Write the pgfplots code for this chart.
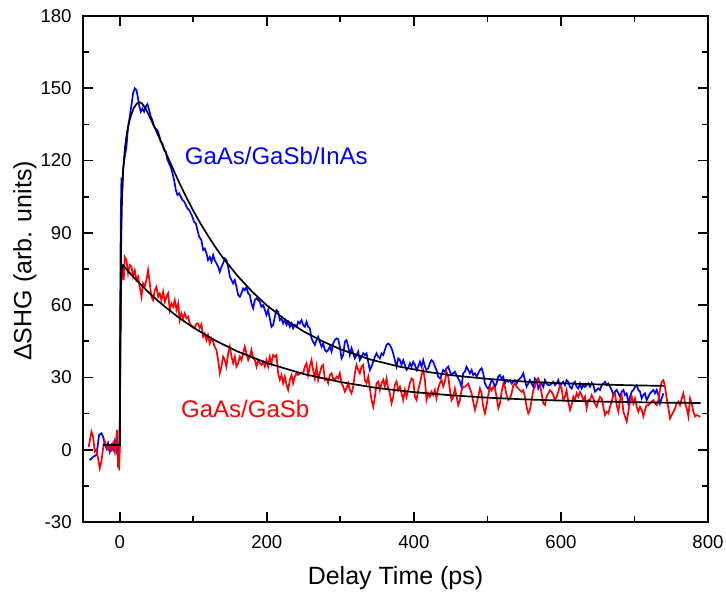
\documentclass[border=0pt]{standalone}
\usepackage{fontspec}
\setmainfont{Liberation Sans}
\usepackage{pgfplots}
\pgfplotsset{compat=1.18}
\usetikzlibrary{calc}

\definecolor{dblue}{RGB}{0,0,255}
\definecolor{dred}{RGB}{255,0,0}

\begin{document}
\begin{tikzpicture}
\begin{axis}[
    name=ax,
    scale only axis,
    width=312.5pt,
    height=253pt,
    xmin=-50, xmax=800,
    ymin=-30, ymax=180,
    xtick={0,200,...,800},
    ytick={-30,0,...,180},
    minor x tick num=1,
    minor y tick num=1,
    tick align=inside,
    major tick length=5pt,
    minor tick length=3pt,
    every tick/.style={line width=0.9pt, black},
    axis line style={line width=1.1pt},
    /pgf/number format/assume math mode=true,
    tick label style={font=\fontsize{9.3}{11}\selectfont},
    xticklabel style={inner sep=0pt, anchor=north, yshift=-6.5pt},
    yticklabel style={inner sep=0pt, anchor=east, xshift=-5.5pt},
    xlabel={Delay Time (ps)},
    ylabel={ΔSHG (arb. units)},
    label style={font=\fontsize{12.5}{14}\selectfont},
    xlabel style={at={(axis description cs:0.5,-0.1107)}, anchor=center},
    ylabel style={at={(axis description cs:-0.0928,0.516)}, anchor=center},
    clip=false,
]
% GaAs/GaSb/InAs data
\addplot[dblue, line width=0.85pt] coordinates {
(-40.8,-4.3) (-36,-2.9) (-31.7,-2.2) (-28.1,6.1) (-25,6.8) (-22.7,5.4) (-20.4,2.7) (-18.1,0.6)
(-15.9,2.7) (-13.6,-0.8) (-11.3,1.8) (-9.1,0) (-6.8,3.5) (-4.5,-0.8) (-2.3,1.4) (-0.9,-1.3)
(0,2) (0.6,55) (1.3,95) (2.3,113) (3.2,107) (4.5,116) (6.8,121.6) (9.1,125.7) (11.3,134)
(13.6,138.2) (15.9,143) (18.1,147.9) (20.4,150) (22.7,149.3) (24,147.3) (26.3,143) (28.6,140.3)
(30.8,141.6) (33.1,140.3) (35.4,142.3) (37.6,143.4) (39.9,141) (42.2,138.2) (44.4,136.8)
(46.7,134) (49,133.3) (51.2,132.6) (53.5,130.6) (55.8,127.9) (58,127.2) (60.3,124.4) (62.6,123.7)
(64.9,120.3) (67.1,118.8) (69.4,117.2) (71.7,114.8) (73.9,111.9) (76.2,107.8) (78.5,105.7)
(80.7,106.4) (83,105) (85.3,103.6) (87.5,103) (89.8,101.6) (92,100.2) (94.3,99.5) (96.6,98.1)
(98.8,96.7) (101,94.6) (103.4,94) (105.6,91.2) (108,88.4) (111,87) (113.4,82.9) (115.6,83.5)
(117.9,81.5) (120,78.7) (122.4,80) (124.7,78) (127,80.8) (129,78.7) (131.5,77.4) (133.8,75.9)
(136,73.8) (138.3,75.9) (140.6,77.4) (142.9,79.4) (145,78.7) (147.4,75.9) (149.7,71.8) (152,70.4)
(154.2,69) (156.5,70.4) (158.7,67.6) (161,64.2) (163.3,63.5) (165.5,64.9) (167.8,66.9) (170,66.2)
(172.3,67.6) (174.6,64.9) (176.9,64.2) (179.1,60.7) (181.4,58.7) (183.7,62.1) (186,62.8)
(188.2,62.1) (190.5,61.4) (192.7,59.3) (195,60) (197.3,58) (199.5,55.9) (201.8,58) (204,54.5)
(206.3,51) (208.6,51.8) (210.9,55.2) (213.1,58) (215.4,57.3) (217.7,53.8) (220,54.5) (222.2,52.4)
(224.5,53.8) (226.8,51.8) (229,53.1) (231.3,51) (233.6,52.4) (235.8,50.4) (238,51.8) (240.4,51)
(242.6,53.1) (244.9,52.4) (247.2,53.8) (249.4,51.8) (251.7,51) (254,53.1) (256.2,51) (258.5,50.4)
(260.8,46.2) (263,44.8) (265.3,43.5) (267.6,45.5) (269.8,46.9) (272,44.8) (274.4,42.8)
(276.6,44.1) (278.9,41.4) (281.2,40.7) (283.4,41.4) (285.7,42.8) (288,40.7) (290.2,44.1)
(292.5,45.5) (294.8,46.2) (297,45.9) (299.3,42.8) (301.6,37.9) (303.9,39.3) (306.1,44.8)
(308.4,45.5) (310.7,42.8) (312.9,39.3) (315.2,42.1) (317.5,40) (319.7,37.9) (322,39.3)
(324.3,40.7) (326.5,37.2) (328.8,38.6) (331,40) (333.3,39.3) (335.6,40) (337.9,36.5) (340.1,33.1)
(342.4,34.5) (344.7,36.5) (347,38.6) (349.2,40) (351.5,38.6) (353.7,37.9) (356,40) (358.3,39.3)
(360.5,41.4) (362.8,43.5) (365,44.1) (367.3,43.5) (369.6,42.1) (371.9,40) (374.1,37.2)
(376.4,34.5) (378.7,37.9) (381,37.2) (383.2,35.2) (385.5,37.2) (387.8,35.2) (390,33.1)
(392.3,33.8) (394.6,35.9) (396.8,34.5) (399.1,36.5) (401.4,35.2) (403.6,33.1) (405.9,34.5)
(408.2,36.5) (410.4,34.5) (412.7,37.2) (415,34.5) (417.2,33.1) (419.5,33.8) (421.8,35.9)
(424,37.2) (426.3,36.5) (428.6,34.5) (430.8,33.1) (433,30.3) (435.4,29.6) (437.6,31) (439.9,33.1)
(442.2,32.4) (444.4,33.8) (446.7,34.5) (449,32.4) (451.2,31) (453.5,31.7) (455.8,32.4) (458,31)
(460.3,29.6) (462.6,28.2) (464.8,26.1) (467,31.7) (469.4,32.4) (471.6,34.4) (473.9,33.1)
(476.2,31.7) (478.5,33.1) (480.7,31) (483,31.7) (485.3,30.3) (487.5,31.7) (489.8,33.1) (492,33.8)
(494.3,31.7) (496.6,27.6) (498.8,26.1) (501,25.4) (503.4,26.8) (505.6,28.9) (507.9,28.2)
(510.2,26.1) (512.4,27.5) (514.7,30.3) (517,31) (519.3,29.6) (521.5,30.3) (523.8,27.5) (526,28.9)
(528.3,28.2) (530.6,28.9) (532.9,27.5) (535.1,28.2) (537.4,28.9) (539.7,27.5) (541.9,28.9)
(544.2,29.6) (546.5,30.3) (548.8,31.7) (551,28.9) (553.3,26.1) (555.6,27.5) (557.8,28.9)
(560,27.5) (562.4,26.1) (564.6,29.6) (566.9,28.9) (569.2,25.4) (571.4,26.8) (573.7,27.5)
(576,26.1) (578.2,28.9) (580.5,27.5) (582.8,26.8) (585,26.8) (587.3,27.5) (589.6,28.2)
(591.8,26.8) (594,27.5) (596.4,28.9) (598.6,26.1) (600.9,27.5) (603,28.2) (605.4,26.8)
(607.7,28.9) (610,28.2) (612.2,26.1) (614.5,25.4) (616.8,27.5) (619,28.2) (621.3,26.1)
(623.6,25.4) (625.9,27.5) (628.1,25.4) (630.4,26.8) (632.7,26.1) (637.2,27.5) (639.5,26.1)
(641.8,27.8) (644,26.8) (646.3,24.1) (648.6,24.8) (650.8,25.5) (653.1,24.8) (655.4,26.8)
(657.6,27.5) (659.9,28.2) (662.2,26.8) (664.5,27.5) (666.7,26.1) (669,24.8) (671.3,22.7)
(673.5,24.1) (675.8,24.8) (678.1,23.4) (680.3,22) (682.6,24.1) (684.9,24.8) (687.1,22.7)
(689.4,23.4) (691.7,19.2) (693.9,22) (696.2,24.1) (698.5,24.8) (700.7,26.1) (703,26.8)
(705.3,24.8) (707.5,24.1) (709.8,21.3) (712.1,22.7) (714.3,23.4) (716.6,20.6) (718.9,22)
(721.1,23.4) (723.4,24.1) (725.7,24.8) (727.9,23.4) (730.2,24.8) (732.5,22.7) (734.7,19.2)
(737,21.3) (739.3,23.4)
};
% GaAs/GaSb data
\addplot[dred, line width=0.85pt] coordinates {
(-42.2,1.2) (-38.5,7.5) (-36.3,5.4) (-34,-0.8) (-31.7,0) (-29.5,-3.6) (-27.2,-7.7) (-25,-5)
(-22.7,0.6) (-20.4,3.5) (-18.1,1.4) (-15.9,0) (-13.6,1.4) (-11.3,0) (-9.1,2.7) (-6.8,-0.8)
(-4.5,5.4) (-3.6,8.2) (-2.3,-7) (-0.9,-7.7) (0,0) (0.8,40) (1.8,68) (3.6,75.9) (5.4,70.4)
(6.8,80) (9.1,78.7) (11.3,73.2) (13.6,76.6) (15.9,75.9) (18.1,71.8) (20.4,74.5) (22.7,70.4)
(24.9,71.8) (27.2,67.6) (29.5,63.5) (31.7,69) (34,67.6) (36.3,70.4) (38.5,74.6) (40.8,69)
(43,63.5) (45.3,62.1) (47.6,66.2) (49.9,67.6) (52.1,63.5) (54.4,64.9) (56.7,62.1) (59,65.6)
(61.2,61.4) (63.5,63.5) (65.8,64.9) (68,58) (70.3,60.7) (72.6,59.3) (74.8,62.1) (77.1,58)
(79.4,60.7) (81.6,53.8) (83.9,56.6) (86.2,54.5) (88.4,56.6) (90.7,54.5) (93,55.2) (95.2,52.4)
(97.5,51.5) (99.8,51.1) (102,50.5) (104.3,52.4) (106.6,52.4) (108.8,50.5) (111,52) (113.4,46.9)
(115.6,48.2) (117.9,45.5) (120,47.6) (122.4,44.1) (124.7,46.2) (127,44.8) (129,42.8) (131.5,41.4)
(133.8,37.2) (136,31.7) (138.3,34.5) (140.6,38.6) (142.9,37.2) (145,34.5) (147.4,40) (149.7,42.8)
(152,38.6) (154.2,35.9) (156.5,38.6) (158.7,34.5) (161,35.9) (163.3,38.6) (165.5,37.2) (167.8,40)
(170,42.8) (172.3,40) (174.6,37.2) (176.9,38.6) (179.1,41.4) (181.4,37.9) (183.7,37.2) (186,34.5)
(188.2,37.2) (190.5,35.9) (192.7,35.2) (195,36.5) (197.3,34.5) (199.5,37.2) (201.8,34.5)
(204,38.6) (206.3,35.9) (208.6,39.3) (210.9,38.6) (213.1,39.3) (215.4,31.7) (217.7,29) (220,31)
(222.2,27.6) (224.5,30.3) (226.8,26.9) (229,24.8) (231.3,29) (233.6,31) (235.8,27.6) (238,30.3)
(240.4,31.7) (242.6,31) (244.9,31.7) (247.2,32) (249.4,31.7) (251.7,34.5) (254,35.9) (256.2,31)
(258.5,34.5) (260.8,37.2) (263,33.1) (265.3,29.6) (267.6,34.5) (269.8,29) (272,31.7) (274.4,34.5)
(276.6,35.2) (278.9,29) (281.2,29.6) (283.4,27.6) (285.7,31) (288,31.7) (290.2,29.6) (292.5,29)
(294.8,30.3) (297,29.6) (299.3,31.7) (301.6,27.6) (303.9,26.2) (306.1,24.1) (308.4,25.5)
(310.7,27.6) (312.9,24.8) (315.2,23.4) (317.5,26.2) (319.7,31.7) (322,35.2) (324.3,33.1)
(326.5,31.7) (328.8,34.5) (331,35.2) (333.3,29) (335.6,27.6) (337.9,30.3) (340.1,25.5)
(342.4,20.6) (344.7,17.8) (347,22) (349.2,27.6) (351.5,28.3) (353.7,24.8) (356,27.6) (358.3,29)
(360.5,26.2) (362.8,29.6) (365,25.5) (367.3,23.4) (369.6,19.3) (371.9,22) (374.1,26.9)
(376.4,28.3) (378.7,24.8) (381,26.2) (383.2,23.4) (385.5,20.6) (387.8,24.8) (390,22) (392.3,24.8)
(394.6,27.6) (396.8,29.6) (399.1,29) (401.4,22) (403.6,20.6) (405.9,24.8) (408.2,27.6) (410.4,31)
(412.7,33.1) (415,29) (417.2,20.6) (419.5,23.4) (421.8,22) (424,24.1) (426.3,22.7) (428.6,24.8)
(430.8,21.3) (433,25.5) (435.4,27.6) (437.6,29) (439.9,26.2) (442.2,28.3) (444.4,32.4)
(446.7,30.3) (449,24.8) (451.2,20.6) (453.5,22) (455.8,25.4) (458.1,22) (460.3,18.5) (462.6,20.6)
(464.9,24.7) (467.1,26.1) (469.4,26.1) (471.7,26.8) (474,27.5) (476.2,25.4) (478.5,23.4)
(480.7,19.9) (483,16.5) (485.3,19.2) (487.5,22) (489.8,25.4) (492.1,23.4) (494.3,17.8)
(496.6,15.1) (498.9,18.5) (501.2,22.7) (503.4,26.1) (505.7,24.7) (508,26.1) (510.2,25.4)
(512.5,22) (514.8,17.2) (517,19.2) (519.3,24) (521.6,27.5) (523.8,26.1) (526.1,22.7) (528.4,20.6)
(530.6,21.3) (532.9,23.4) (535.2,26.8) (537.4,27.5) (539.7,26.1) (542,25.4) (544.2,24.7)
(546.5,24) (548.8,24.7) (551,22) (553.3,17.8) (555.6,15.1) (557.8,16.5) (560.1,20.6) (562.4,24.7)
(564.6,26.1) (566.9,28.9) (569.2,29.6) (571.4,27.5) (573.7,23.4) (576,19.2) (578.2,18.5)
(580.5,22) (582.8,23.4) (585,24.7) (587.3,24) (589.6,22.7) (591.9,20.6) (594.1,22) (596.4,24)
(598.7,26.8) (600.9,25.4) (603.2,20.6) (605.5,22) (607.7,24.7) (610,19.9) (612.3,16.5)
(614.5,18.5) (616.8,22) (619.1,20.6) (621.3,23.4) (623.6,22) (625.9,24) (628.1,22.7) (630.4,20.6)
(632.7,22) (634.9,17.2) (637.2,20.6) (639.5,20.6) (641.8,22.7) (644,21.3) (646.3,19.2)
(648.6,17.8) (650.8,20) (653.1,22) (655.4,21.3) (657.6,17.8) (659.9,14.4) (662.2,15.8)
(664.5,15.1) (666.7,17.8) (669,20) (671.3,22.7) (673.5,23.4) (675.8,18.5) (678.1,15.8)
(680.3,20.6) (682.6,22.7) (684.9,15.8) (687.1,13.8) (689.4,11.7) (691.7,15.8) (693.9,20)
(696.2,22) (698.5,19.2) (700.7,21.3) (703,17.8) (705.3,15.8) (707.5,17.8) (709.8,16.5)
(712.1,13.8) (714.3,16.5) (716.6,18.5) (718.9,18.5) (721.1,19.2) (723.4,20) (725.7,20.6)
(727.9,19.2) (730.2,18.5) (732.5,20.6) (734.7,24.8) (737,28.2) (739.3,28.9) (741.5,26.1)
(743.8,21.3) (746.1,17.2) (748.3,13) (750.6,14.4) (752.9,15.8) (755.1,17.2) (757.4,19.2)
(759.7,20) (761.9,18.5) (764.2,21.3) (766.5,23.4) (768.8,19.2) (771,17.2) (773.3,13.8)
(775.6,21.3) (777.8,19.2) (780.1,15.8) (782.4,13.8) (784.6,14.4) (786.9,14.1) (789.2,13.6)
};
% fits
\addplot[black, line width=0.85pt] coordinates {
(-23,2) (0,2) (0.5,30) (1,55) (1.5,75) (2,88) (3,103) (4,112) (5,118) (7,125) (9,130) (12,135)
(15,138.5) (19,141.8) (23,143.6) (27,144.2) (30,143.8) (35,141.6) (40,138.6) (45,135.4) (50,132)
(55,128.6) (60,125) (70,118.2) (80,111.4) (90,105.1) (100,99.2) (110,93.8) (120,88.8) (130,84.1)
(140,79.8) (160,72.2) (180,65.6) (200,59.9) (225,54.0) (250,49.1) (275,45.1) (300,41.7)
(340,37.5) (380,34.5) (420,32.2) (460,30.6) (500,29.4) (550,28.3) (600,27.6) (650,27.1)
(700,26.7) (740,26.5)
};
\addplot[black, line width=0.85pt] coordinates {
(-23,2) (0,2) (0.5,35) (1,55) (1.5,66) (2,72) (3,75.5) (4.5,76.6) (10,74.6) (20,71.2) (30,68.1)
(40,65.1) (50,62.3) (60,59.7) (80,54.9) (100,50.7) (130,45.3) (160,40.8) (200,36.0) (250,31.4)
(300,28.1) (350,25.6) (400,23.9) (450,22.6) (500,21.6) (550,20.9) (600,20.4) (650,20.0)
(700,19.7) (750,19.5) (790,19.4)
};
\node[dblue, anchor=west, inner sep=0pt, font=\fontsize{12}{14}\selectfont] at (axis cs:88,122) {GaAs/GaSb/InAs};
\node[dred, anchor=west, inner sep=0pt, font=\fontsize{12}{14}\selectfont] at (axis cs:83,17) {GaAs/GaSb};
\end{axis}
\pgfresetboundingbox
\path[use as bounding box] ($(ax.south west)+(-41.5pt,-36.5pt)$) rectangle ($(ax.north east)+(9pt,8pt)$);
\end{tikzpicture}
\end{document}
